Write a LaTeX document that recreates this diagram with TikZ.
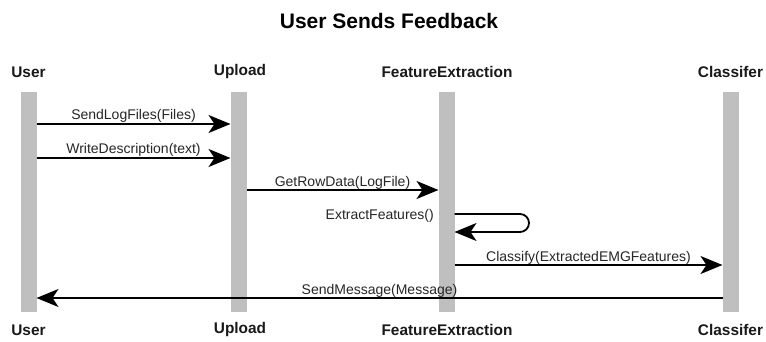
\documentclass[tikz,border=0pt]{standalone}
\usepackage{fontspec}
\setmainfont{Liberation Sans}
\usetikzlibrary{arrows.meta,calc}
\begin{document}
\begin{tikzpicture}[x=1pt,y=-1pt,
  lifeline/.style={fill=black!25,draw=none,minimum width=16pt,minimum height=220pt,inner sep=0pt,outer sep=0pt},
  actor/.style={font=\fontsize{15.4}{18}\selectfont\bfseries,text=black!90,inner sep=0pt},
  msg/.style={line width=1.8pt,-{Stealth[length=22pt,width=18pt,inset=6pt]}},
  msglabel/.style={font=\fontsize{14}{16}\selectfont,text=black!85,anchor=base,inner sep=0pt},
  titlestyle/.style={font=\fontsize{21}{24}\selectfont\bfseries,inner sep=0pt,anchor=base}]
\useasboundingbox (0,0) rectangle (766,342);
\fill[white] (0,0) rectangle (766,342);
\node[titlestyle] (title) at (389,29) {User Sends Feedback};
% lifelines
\node[lifeline] (u)  at (28.5,202) {};
\node[lifeline] (up) at (238.5,202) {};
\node[lifeline] (fe) at (446.5,202) {};
\node[lifeline] (cl) at (730.5,202) {};
% actor labels
\node[actor] (ut) at (28.5,72) {User};
\node[actor] (upt) at (240,72) {Upload};
\node[actor] (fet) at (447,72) {FeatureExtraction};
\node[actor] (clt) at (730.5,72) {Classifer};
\node[actor] (ub) at (28.5,330) {User};
\node[actor] (upb) at (240,330) {Upload};
\node[actor] (feb) at (447,330) {FeatureExtraction};
\node[actor] (clb) at (730.5,330) {Classifer};
% message levels
\coordinate (y1) at (0,124);
\coordinate (y2) at (0,158);
\coordinate (y3) at (0,190);
\coordinate (y4) at (0,214);
\coordinate (y4b) at (0,232);
\coordinate (y5) at (0,265);
\coordinate (y6) at (0,298);
\coordinate (loopx) at (529,0);
% messages
\draw[msg] (u.east |- y1) -- node[msglabel,yshift=4pt] {SendLogFiles(Files)} (up.west |- y1);
\draw[msg] (u.east |- y2) -- node[msglabel,yshift=4pt] {WriteDescription(text)} (up.west |- y2);
\draw[msg] (up.east |- y3) -- node[msglabel,yshift=4pt] {GetRowData(LogFile)} (fe.west |- y3);
\draw[msg,rounded corners=9pt] (fe.east |- y4) -- (loopx |- y4) -- (loopx |- y4b) -- (fe.east |- y4b);
\node[msglabel,anchor=base east] (eflabel) at (434,219) {ExtractFeatures()};
\draw[msg] (fe.east |- y5) -- node[msglabel,yshift=4pt] {Classify(ExtractedEMGFeatures)} (cl.west |- y5);
\draw[msg] (cl.west |- y6) -- node[msglabel,yshift=4pt] {SendMessage(Message)} (u.east |- y6);
\end{tikzpicture}
\end{document}
